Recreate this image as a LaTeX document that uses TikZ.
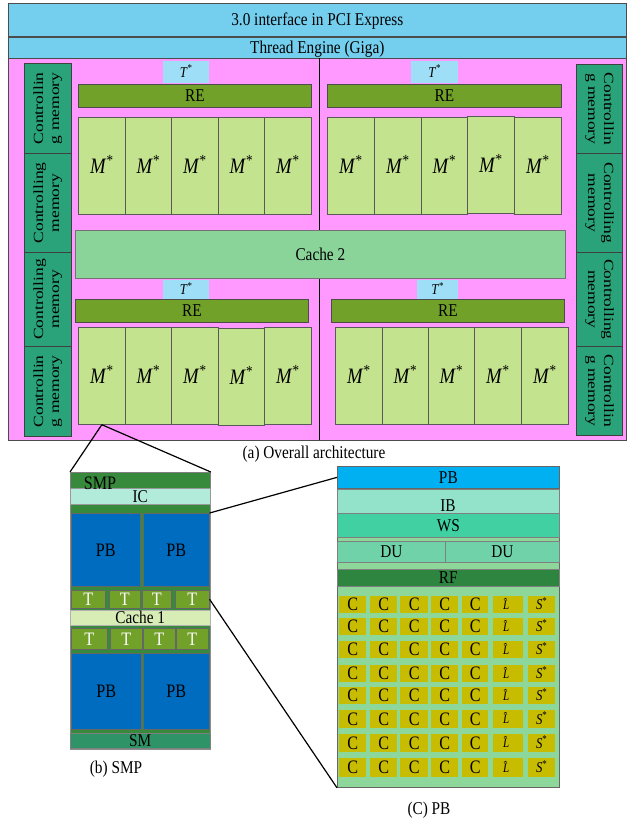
\documentclass[tikz,border=0pt]{standalone}
\usepackage{fontspec}
\setmainfont{Liberation Serif}[FakeStretch=0.85]
\newfontfamily\rotf{Liberation Serif}[FakeStretch=1.25]
\definecolor{topblue}{HTML}{74CFEF}
\definecolor{pinkc}{HTML}{FF99FF}
\definecolor{cmem}{HTML}{2AA37A}
\definecolor{tstar}{HTML}{9EDFF7}
\definecolor{rec}{HTML}{72A12A}
\definecolor{mbox}{HTML}{C3E38E}
\definecolor{cachetwo}{HTML}{8AD49A}
\definecolor{smpg}{HTML}{37893B}
\definecolor{icc}{HTML}{B3EBDA}
\definecolor{pbblue}{HTML}{006CBF}
\definecolor{cacheone}{HTML}{D8EDB5}
\definecolor{smc}{HTML}{2E9468}
\definecolor{pbcyan}{HTML}{00B0F0}
\definecolor{ibc}{HTML}{92E3C9}
\definecolor{wsc}{HTML}{40D0A2}
\definecolor{duc}{HTML}{70D2A8}
\definecolor{rfc}{HTML}{2E8540}
\definecolor{gridbg}{HTML}{8ED79A}
\definecolor{cellc}{HTML}{C8BC00}
\newcommand{\pbox}[6]{%
  \node[#6, anchor=north west, inner sep=0pt, minimum width={(#4-#2)*1pt}, minimum height={(#5-#3)*1pt}] (#1) at (#2,#3) {};}
\newcommand{\mybox}[8]{%
  \pbox{#1}{#2}{#3}{#4}{#5}{#6}%
  \node[lbl,#7] (#1t) at (#1.center) {#8};}
\begin{document}
\begin{tikzpicture}[x=1pt,y=-1pt,
  bord/.style={draw=black!70, line width=0.7pt},
  f18/.style={font=\fontsize{18}{20}\selectfont, text height=12pt},
  f17/.style={font=\fontsize{17}{19}\selectfont, text height=11.3pt},
  f19/.style={font=\fontsize{19}{21}\selectfont, text height=12.5pt},
  f14/.style={font=\fontsize{15}{17}\selectfont, text height=10pt},
  mst/.style={font=\fontsize{22}{24}\selectfont, text height=14.5pt},
  lbl/.style={inner sep=0pt, text depth=0pt, f18},
  rotl/.style={rotate=90, align=center, inner sep=0pt, font=\rotf\fontsize{14}{16}\selectfont},
  rotr/.style={rotate=-90, align=center, inner sep=0pt, font=\rotf\fontsize{14}{16}\selectfont},
  conn/.style={line width=1.2pt, black},
  cmemst/.style={fill=cmem, draw=black!75, line width=0.7pt},
  mst2/.style={fill=mbox, draw=black!65, line width=0.7pt},
  tst/.style={fill=rec, draw=black!60, line width=0.6pt},
  pbst/.style={fill=pbblue, draw=black!60, line width=0.6pt},
  cellst/.style={fill=cellc}
]
\useasboundingbox (0,0) rectangle (627,820);
% top bars
\mybox{pci}{8}{3}{626}{36}{fill=topblue,bord}{}{3.0 interface in PCI Express}
\mybox{te}{8}{37}{626}{58}{fill=topblue,bord}{}{Thread Engine (Giga)}
\pbox{pink}{8}{58}{626}{440}{fill=pinkc,bord}
\draw[line width=1pt] (319,58) -- (319,440);
% controlling memory left
\pbox{cl1}{24}{63}{71}{153}{cmemst}
\pbox{cl2}{24}{153}{71}{252}{cmemst}
\pbox{cl3}{24}{252}{71}{346}{cmemst}
\pbox{cl4}{24}{346}{71}{436}{cmemst}
\node[rotl] (cl1l) at (cl1.center) {Controllin\\g memory};
\node[rotl] (cl2l) at (cl2.center) {Controlling\\memory};
\node[rotl] (cl3l) at (cl3.center) {Controlling\\memory};
\node[rotl] (cl4l) at (cl4.center) {Controllin\\g memory};
% controlling memory right
\pbox{cr1}{576}{64}{622}{153}{cmemst}
\pbox{cr2}{576}{153}{622}{252}{cmemst}
\pbox{cr3}{576}{252}{622}{346}{cmemst}
\pbox{cr4}{576}{346}{622}{435}{cmemst}
\node[rotr] (cr1l) at (cr1.center) {Controllin\\g memory};
\node[rotr] (cr2l) at (cr2.center) {Controlling\\memory};
\node[rotr] (cr3l) at (cr3.center) {Controlling\\memory};
\node[rotr] (cr4l) at (cr4.center) {Controllin\\g memory};
% top-left quadrant
\mybox{tlt}{163}{61}{209}{83}{fill=tstar}{f14}{\textit{T}\textsuperscript{*}}
\mybox{tlre}{78}{84}{311}{107}{fill=rec,bord}{}{RE}
\mybox{tlm1}{78}{117}{125}{214}{mst2}{mst}{\textit{M}\textsuperscript{*}}
\mybox{tlm2}{125}{117}{171}{214}{mst2}{mst}{\textit{M}\textsuperscript{*}}
\mybox{tlm3}{171}{117}{218}{214}{mst2}{mst}{\textit{M}\textsuperscript{*}}
\mybox{tlm4}{218}{117}{264}{214}{mst2}{mst}{\textit{M}\textsuperscript{*}}
\mybox{tlm5}{264}{117}{311}{214}{mst2}{mst}{\textit{M}\textsuperscript{*}}
% top-right quadrant
\mybox{trt}{411}{61}{458}{83}{fill=tstar}{f14}{\textit{T}\textsuperscript{*}}
\mybox{trre}{327}{84}{561}{107}{fill=rec,bord}{}{RE}
\mybox{trm1}{327}{117}{374}{214}{mst2}{mst}{\textit{M}\textsuperscript{*}}
\mybox{trm2}{374}{117}{421}{214}{mst2}{mst}{\textit{M}\textsuperscript{*}}
\mybox{trm3}{421}{117}{467}{214}{mst2}{mst}{\textit{M}\textsuperscript{*}}
\mybox{trm4}{467}{116}{514}{213}{mst2}{mst}{\textit{M}\textsuperscript{*}}
\mybox{trm5}{514}{117}{561}{214}{mst2}{mst}{\textit{M}\textsuperscript{*}}
% cache 2
\mybox{ctwo}{75}{230}{565}{278}{fill=cachetwo,draw=black!55,line width=0.7pt}{}{Cache 2}
% bottom-left quadrant
\mybox{blt}{163}{280}{209}{299}{fill=tstar}{f14}{\textit{T}\textsuperscript{*}}
\mybox{blre}{75}{299}{308}{322}{fill=rec,bord}{}{RE}
\mybox{blm1}{78}{327}{125}{424}{mst2}{mst}{\textit{M}\textsuperscript{*}}
\mybox{blm2}{125}{327}{171}{424}{mst2}{mst}{\textit{M}\textsuperscript{*}}
\mybox{blm3}{171}{327}{218}{424}{mst2}{mst}{\textit{M}\textsuperscript{*}}
\mybox{blm4}{218}{328}{264}{425}{mst2}{mst}{\textit{M}\textsuperscript{*}}
\mybox{blm5}{264}{327}{311}{424}{mst2}{mst}{\textit{M}\textsuperscript{*}}
% bottom-right quadrant
\mybox{brt}{417}{280}{458}{299}{fill=tstar}{f14}{\textit{T}\textsuperscript{*}}
\mybox{brre}{331}{299}{564}{322}{fill=rec,bord}{}{RE}
\mybox{brm1}{335}{327}{382}{424}{mst2}{mst}{\textit{M}\textsuperscript{*}}
\mybox{brm2}{382}{327}{428}{424}{mst2}{mst}{\textit{M}\textsuperscript{*}}
\mybox{brm3}{428}{327}{474}{424}{mst2}{mst}{\textit{M}\textsuperscript{*}}
\mybox{brm4}{474}{327}{521}{424}{mst2}{mst}{\textit{M}\textsuperscript{*}}
\mybox{brm5}{521}{327}{568}{424}{mst2}{mst}{\textit{M}\textsuperscript{*}}
\node[lbl] (capa) at (314,452) {(a) Overall architecture};
% SMP detail
\pbox{smp}{70}{472}{210}{749}{fill=smpg,draw=black!45,line width=0.8pt}
\pbox{smph}{70}{472}{210}{488}{fill=smpg,draw=black!50,line width=0.5pt}
\mybox{ic}{70}{488}{210}{504}{fill=icc,draw=black!40,line width=0.5pt}{f18}{IC}
\node[lbl,f19] (smptxt) at (100,483) {SMP};
\mybox{spa}{71}{513}{140}{586}{pbst}{f19}{PB}
\mybox{spb}{143}{513}{209}{586}{pbst}{f19}{PB}
\mybox{ta1}{71}{590}{105}{608}{tst}{f19,text=white}{T}
\mybox{ta2}{109}{590}{140}{608}{tst}{f19,text=white}{T}
\mybox{ta3}{142}{590}{171}{608}{tst}{f19,text=white}{T}
\mybox{ta4}{175}{590}{209}{608}{tst}{f19,text=white}{T}
\mybox{cone}{70}{610}{210}{625}{fill=cacheone,draw=black!30,line width=0.5pt}{f18}{Cache 1}
\mybox{tb1}{71}{628}{107}{649}{tst}{f19,text=white}{T}
\mybox{tb2}{110}{628}{142}{649}{tst}{f19,text=white}{T}
\mybox{tb3}{143}{628}{175}{649}{tst}{f19,text=white}{T}
\mybox{tb4}{176}{628}{208}{649}{tst}{f19,text=white}{T}
\mybox{spc}{71}{653}{141}{729}{pbst}{f19}{PB}
\mybox{spd}{143}{653}{209}{729}{pbst}{f19}{PB}
\mybox{sm}{70}{733}{210}{748}{fill=smc,draw=black!50,line width=0.5pt}{f18}{SM}
\node[lbl] (capb) at (116,767) {(b) SMP};
% PB detail
\pbox{pbd}{337}{466}{559}{787}{fill=gridbg,draw=black!60,line width=0.8pt}
\mybox{pbh}{337}{466}{559}{488}{fill=pbcyan,draw=black!60,line width=0.7pt}{}{PB}
\pbox{ib}{337}{489}{559}{513}{fill=ibc,draw=black!50,line width=0.6pt}
\node[lbl] (ibtxt) at (448,505) {IB};
\mybox{ws}{337}{513}{559}{537}{fill=wsc,draw=black!50,line width=0.6pt}{}{WS}
\mybox{dua}{337}{541}{445}{562}{fill=duc,draw=black!50,line width=0.6pt}{}{DU}
\mybox{dub}{445}{541}{559}{562}{fill=duc,draw=black!50,line width=0.6pt}{}{DU}
\mybox{rf}{337}{569}{559}{586}{fill=rfc,draw=black!50,line width=0.6pt}{}{RF}
\foreach \r/\ya/\yb in {1/596/613,2/618/635,3/641/658,4/665/682,5/687/704,6/710/728,7/734/752,8/758/777}{
  \foreach \c/\xa/\xb in {1/339/366,2/370/397,3/400/428,4/431/458,5/462/488}{
    \mybox{c\r\c}{\xa}{\ya}{\xb}{\yb}{cellst}{f19}{C}
  }
  \mybox{c\r6}{493}{\ya}{523}{\yb}{cellst}{font=\fontsize{13}{15}\selectfont,text height=9pt}{\textit{\^{L}}}
  \mybox{c\r7}{528}{\ya}{555}{\yb}{cellst}{font=\fontsize{15}{17}\selectfont,text height=10pt}{\textit{S}\textsuperscript{*}}
}
\node[lbl] (capc) at (429,808) {(C) PB};
% connectors
\draw[conn] (blm1.south) -- (smp.north west);
\draw[conn] (blm1.south) -- (smp.north east);
\draw[conn] (spb.north east) -- (pbh.west);
\draw[conn] (ta4.east) -- (pbd.south west);
\end{tikzpicture}
\end{document}
